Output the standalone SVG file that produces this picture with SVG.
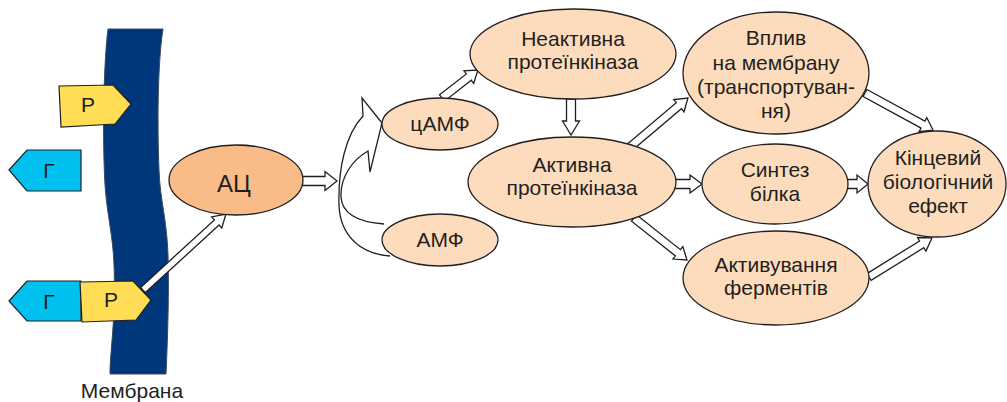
<svg xmlns="http://www.w3.org/2000/svg" width="1007" height="402" viewBox="0 0 1007 402">
<style>
text{font-family:"Liberation Sans",Arial,sans-serif;font-size:21px;fill:#231f20;text-anchor:middle}
.el{fill:#fddcbd;stroke:#231f20;stroke-width:1.3}
.arr{fill:#fff;stroke:#231f20;stroke-width:1.3;stroke-linejoin:miter}
.yel{fill:#ffdd55;stroke:#231f20;stroke-width:1.2}
.cy{fill:#00c0ef;stroke:#231f20;stroke-width:1.2}
</style>
<rect width="1007" height="402" fill="#fff"/>
<g id="membrane">
<path d="M108,29 C104,60 102,130 105,185 C107,215 113,235 114,265 C116,320 110,350 110,374 L166,374 C168,330 169,290 168,255 C167,220 160,200 159,170 C157,120 158,60 163,29 Z" fill="#00377a" stroke="#3a4a5e" stroke-width="1"/>
<text x="132" y="398">Мембрана</text>
</g>
<g id="connectors">
<path class="arr" transform="translate(300,181)" d="M0,-4.5 L25,-4.5 L25,-9.5 L37,0 L25,9.5 L25,4.5 L0,4.5 Z"/>
<path class="arr" transform="translate(143,290) rotate(-42.5)" d="M0,-3.5 L100,-3.5 L100,-7.5 L112.5,0 L100,7.5 L100,3.5 L0,3.5 Z"/>
<path class="arr" transform="translate(442,98) rotate(-37.9)" d="M0,-4 L34,-4 L34,-8 L45.6,0 L34,8 L34,4 L0,4 Z"/>
<path class="arr" transform="translate(571,99) rotate(90)" d="M0,-4.5 L22,-4.5 L22,-8.5 L36,0 L22,8.5 L22,4.5 L0,4.5 Z"/>
<path class="arr" transform="translate(630,147) rotate(-40.2)" d="M0,-4 L64,-4 L64,-8 L75.9,0 L64,8 L64,4 L0,4 Z"/>
<path class="arr" transform="translate(673,184) rotate(0)" d="M0,-4.5 L17,-4.5 L17,-9 L29,0 L17,9 L17,4.5 L0,4.5 Z"/>
<path class="arr" transform="translate(634,218) rotate(38.4)" d="M0,-4 L56,-4 L56,-8 L67.6,0 L56,8 L56,4 L0,4 Z"/>
<path class="arr" transform="translate(865,93) rotate(28.6)" d="M0,-4 L66,-4 L66,-8 L77.4,0 L66,8 L66,4 L0,4 Z"/>
<path class="arr" transform="translate(846,184) rotate(0)" d="M0,-4.5 L11,-4.5 L11,-9 L22,0 L11,9 L11,4.5 L0,4.5 Z"/>
<path class="arr" transform="translate(869,277) rotate(-31.8)" d="M0,-4 L62,-4 L62,-8 L74.1,0 L62,8 L62,4 L0,4 Z"/>
<path d="M390,256 C360,254 340,235 339,205 C338,170 345,135 363,116 L362,98 L382,123 L370,172 L368,151 C352,160 340,178 341,197 C342,212 355,222 384,224" fill="none" stroke="#231f20" stroke-width="1.3" stroke-linejoin="miter"/>
</g>
<g id="receptor-top">
<polygon class="yel" points="59,86 113,85 131,104 115,124 61,127"/>
<text x="88" y="112">Р</text>
</g>
<g id="hormone-free">
<polygon class="cy" points="9,170 27,150 81,150 81,191 27,191"/>
<text x="49" y="178">Г</text>
</g>
<g id="hormone-bound">
<polygon class="cy" points="9,301 27,281 81,281 81,321 27,321"/>
<text x="49" y="309">Г</text>
</g>
<g id="receptor-bound">
<polygon class="yel" points="80,282 133,281 151,300 136,320 82,322"/>
<text x="111" y="307">Р</text>
</g>
<g id="ac">
<ellipse cx="236" cy="180" rx="67" ry="35" fill="#f9bc88" stroke="#231f20" stroke-width="1.3"/>
<text x="234" y="192" style="font-size:24px">АЦ</text>
</g>
<g id="camp">
<ellipse class="el" cx="440" cy="124" rx="58" ry="26"/>
<text x="440" y="131">цАМФ</text>
</g>
<g id="amp">
<ellipse class="el" cx="440" cy="240" rx="58" ry="26"/>
<text x="440" y="247">АМФ</text>
</g>
<g id="inactive-pk">
<ellipse class="el" cx="573" cy="54" rx="103" ry="45"/>
<text x="573" y="46">Неактивна</text>
<text x="573" y="69">протеїнкіназа</text>
</g>
<g id="active-pk">
<ellipse class="el" cx="572" cy="182" rx="104" ry="45"/>
<text x="572" y="172">Активна</text>
<text x="572" y="195">протеїнкіназа</text>
</g>
<g id="membrane-effect">
<ellipse class="el" cx="776" cy="73" rx="93" ry="61"/>
<text x="776" y="45">Вплив</text>
<text x="776" y="70">на мембрану</text>
<text x="776" y="94">(транспортуван-</text>
<text x="776" y="118">ня)</text>
</g>
<g id="protein-synthesis">
<ellipse class="el" cx="775" cy="184" rx="73" ry="40"/>
<text x="775" y="177">Синтез</text>
<text x="775" y="201">білка</text>
</g>
<g id="enzyme-activation">
<ellipse class="el" cx="776" cy="278" rx="93" ry="47"/>
<text x="776" y="272">Активування</text>
<text x="776" y="295">ферментів</text>
</g>
<g id="final-effect">
<ellipse class="el" cx="937" cy="184" rx="69" ry="53"/>
<text x="938" y="165">Кінцевий</text>
<text x="938" y="189">біологічний</text>
<text x="938" y="213">ефект</text>
</g>
</svg>
